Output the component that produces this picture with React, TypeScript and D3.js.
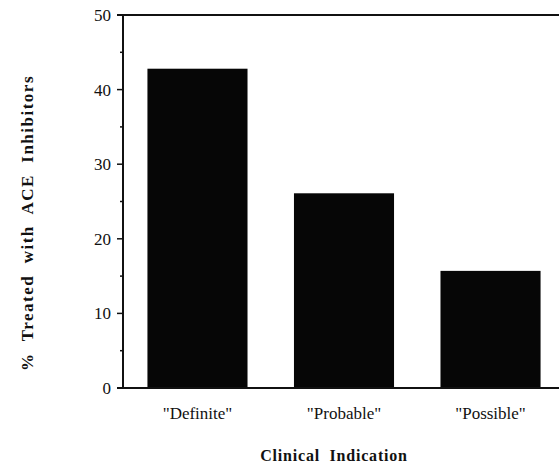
import { useEffect, useRef } from 'react';
import * as d3 from 'd3';

const categories = ['"Definite"', '"Probable"', '"Possible"'];
const values = [42.8, 26.1, 15.7];
const majorTicks = [0, 10, 20, 30, 40, 50];
const minorTicks = [5, 15, 25, 35, 45];

export default function App() {
  const ref = useRef<SVGSVGElement>(null);

  useEffect(() => {
    if (!ref.current) return;
    const W = 559, H = 464;
    const svg = d3.select(ref.current);
    svg.selectAll('*').remove();
    svg.attr('width', W).attr('height', H);

    const x0 = 123;
    const y = d3.scaleLinear().domain([0, 50]).range([388, 15]);
    const x = d3.scaleBand<string>()
      .domain(categories)
      .range([124, 564])
      .paddingInner(0.317)
      .paddingOuter(0.16);

    const font = "'Liberation Serif', 'DejaVu Serif', serif";

    // bars
    svg.append('g')
      .selectAll('rect')
      .data(values)
      .join('rect')
      .attr('x', (_d, i) => x(categories[i])!)
      .attr('y', d => y(d))
      .attr('width', x.bandwidth())
      .attr('height', d => y(0) - y(d))
      .attr('fill', '#060606');

    const line = (x1: number, y1: number, x2: number, y2: number, w = 2) =>
      svg.append('line')
        .attr('x1', x1).attr('y1', y1).attr('x2', x2).attr('y2', y2)
        .attr('stroke', '#111').attr('stroke-width', w);

    // frame: left axis, baseline, top line
    line(x0, y(50) - 1, x0, y(0) + 1);
    line(x0 - 6, y(0), W, y(0));
    line(x0 - 6, y(50), W, y(50));

    // ticks
    majorTicks.forEach(t => line(x0 - 6, y(t), x0, y(t), 1.5));
    minorTicks.forEach(t => line(x0 - 3, y(t), x0, y(t), 1.5));

    svg.append('g')
      .selectAll('text')
      .data(majorTicks)
      .join('text')
      .attr('x', 111)
      .attr('y', d => y(d))
      .attr('dy', '0.35em')
      .attr('text-anchor', 'end')
      .style('font-family', font)
      .style('font-size', '17px')
      .attr('fill', '#111')
      .text(d => d);

    // category labels
    svg.append('g')
      .selectAll('text')
      .data(categories)
      .join('text')
      .attr('x', d => x(d)! + x.bandwidth() / 2)
      .attr('y', 419)
      .attr('text-anchor', 'middle')
      .style('font-family', font)
      .style('font-size', '17px')
      .attr('fill', '#111')
      .text(d => d);

    // axis titles
    svg.append('text')
      .attr('x', 334)
      .attr('y', 461)
      .attr('text-anchor', 'middle')
      .style('font-family', font)
      .style('font-weight', 'bold')
      .style('font-size', '16px')
      .style('white-space', 'pre')
      .attr('letter-spacing', 0.8)
      .attr('fill', '#111')
      .text('Clinical  Indication');

    svg.append('text')
      .attr('transform', `translate(33,${223}) rotate(-90)`)
      .attr('text-anchor', 'middle')
      .style('font-family', font)
      .style('font-weight', 'bold')
      .style('font-size', '17px')
      .style('white-space', 'pre')
      .attr('letter-spacing', 1.5)
      .attr('fill', '#111')
      .text('%  Treated  with  ACE  Inhibitors');
  }, []);

  return <svg ref={ref} style={{ position: 'absolute', left: 0, top: 0, background: '#fff' }} />;
}
